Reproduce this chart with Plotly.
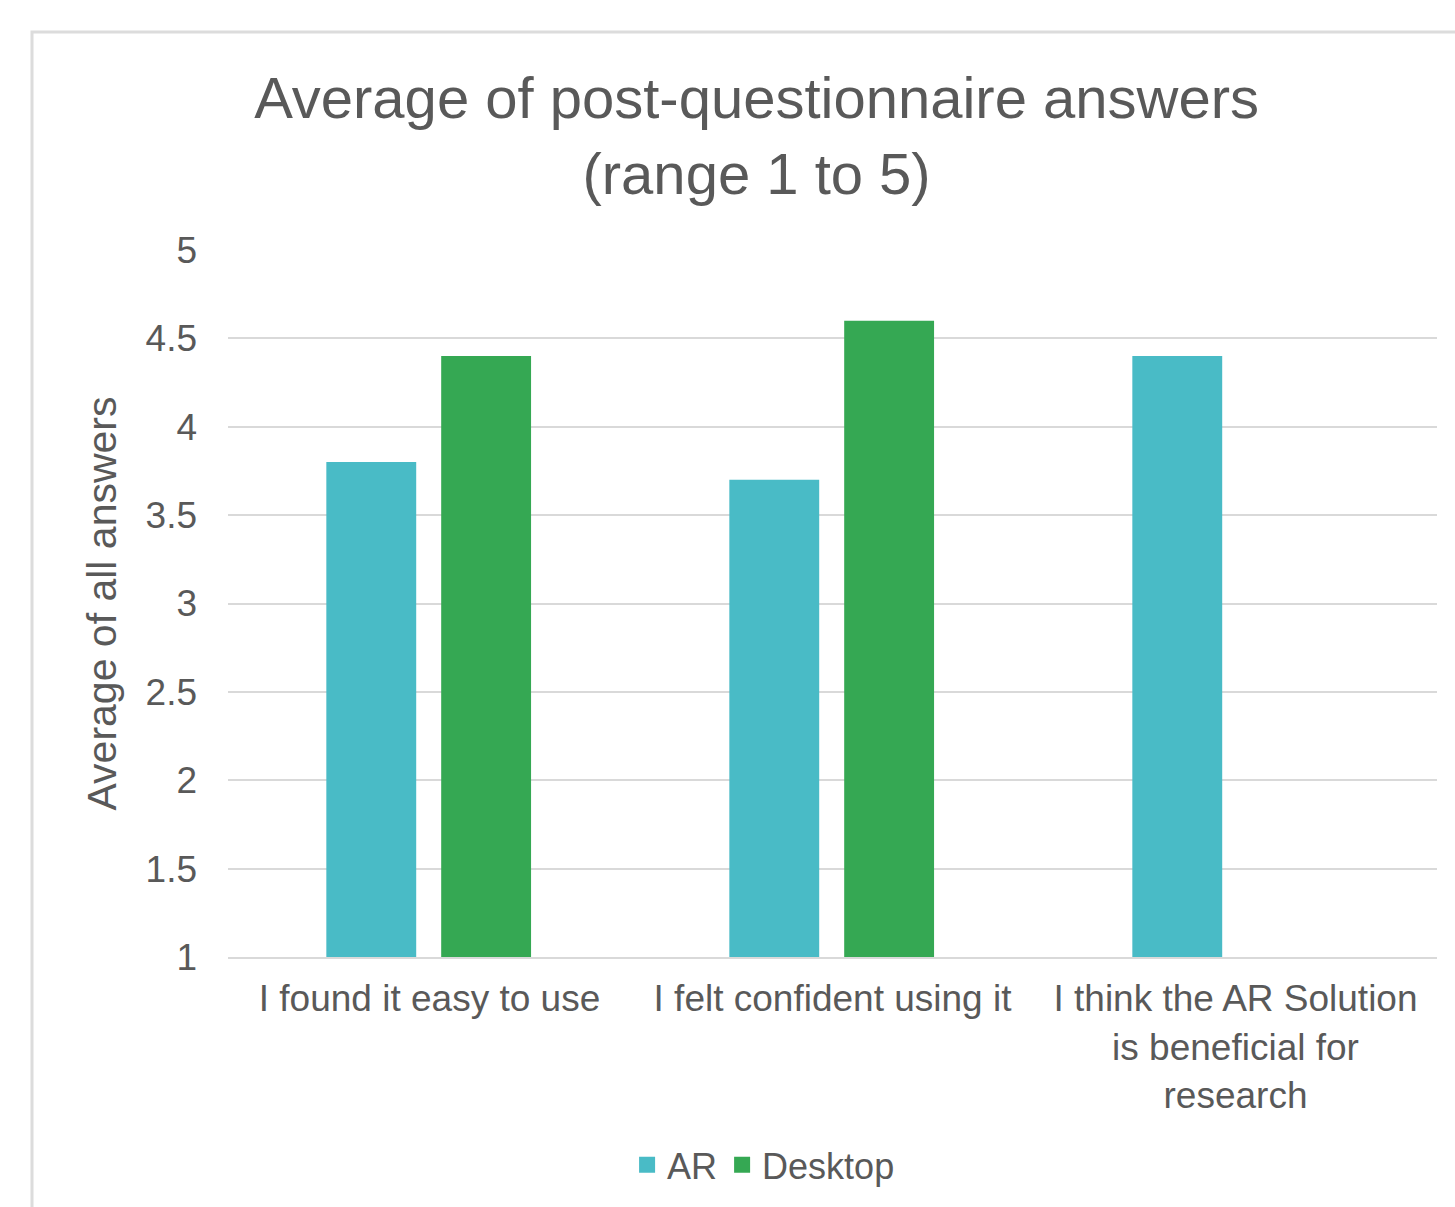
import plotly.graph_objects as go

# Survey statements (category axis) and mean scores per condition
categories = [
    "I found it easy to use",
    "I felt confident using it",
    "I think the AR Solution<br>is beneficial for<br>research",
]
series_names = ["AR", "Desktop"]
ar_scores = [3.8, 3.7, 4.4]
desktop_scores = [4.4, 4.6, None]
y_ticks = [1, 1.5, 2, 2.5, 3, 3.5, 4, 4.5, 5]
y_tick_text = ["1", "1.5", "2", "2.5", "3", "3.5", "4", "4.5", "5"]

FONT = "Liberation Sans, Arial, sans-serif"
TEXT = "#595959"
GRID = "#d9d9d9"
COLORS = ["#49BBC6", "#35A853"]

fig = go.Figure()
for name, vals, color, off in zip(series_names, [ar_scores, desktop_scores], COLORS, [-0.256, 0.029]):
    fig.add_trace(go.Bar(
        name=name, x=categories, y=vals,
        marker=dict(color=color, line=dict(width=0)),
        width=0.223, offset=off, showlegend=False,
    ))
# Legend entries with larger square swatches
for name, color in zip(series_names, COLORS):
    fig.add_trace(go.Scatter(
        name=name, x=[None], y=[None], mode="markers",
        marker=dict(symbol="square", size=18, color=color),
    ))

fig.update_layout(
    width=1455, height=1207,
    margin=dict(l=228, r=18, t=250, b=250),
    paper_bgcolor="white", plot_bgcolor="white",
    font=dict(family=FONT, color=TEXT, size=36),
    barmode="group",
    title=dict(
        text="Average of post-questionnaire answers<br>(range 1 to 5)",
        x=0.52, xanchor="center", xref="container",
        y=0.902, yanchor="top", yref="container",
        font=dict(family=FONT, size=58, color=TEXT),
    ),
    xaxis=dict(
        type="category", range=[-0.5, 2.5],
        showgrid=False, showline=True, linecolor=GRID, linewidth=2,
        ticks="", tickfont=dict(size=37, color=TEXT),
        ticklabelstandoff=8,
    ),
    yaxis=dict(
        range=[1, 5], tickvals=y_ticks, ticktext=y_tick_text,
        showgrid=True, gridcolor=GRID, gridwidth=2,
        zeroline=False, showline=False, ticks="",
        tickfont=dict(size=37, color=TEXT),
        ticklabelstandoff=30,
        title=dict(text="Average of all answers", font=dict(size=41, color=TEXT), standoff=16),
    ),
    legend=dict(
        orientation="h", x=0.443, xanchor="center", y=-0.294, yanchor="middle",
        font=dict(size=36, color=TEXT), itemwidth=30,
        bgcolor="rgba(0,0,0,0)",
    ),
    shapes=[dict(
        type="rect", xref="paper", yref="paper",
        x0=(32 - 228) / 1209, x1=1.1, y0=-0.5, y1=(957 - 32) / 707,
        line=dict(color="#dcdcdc", width=3), fillcolor="rgba(0,0,0,0)",
        layer="below",
    )],
)

fig.write_html("out.html")
